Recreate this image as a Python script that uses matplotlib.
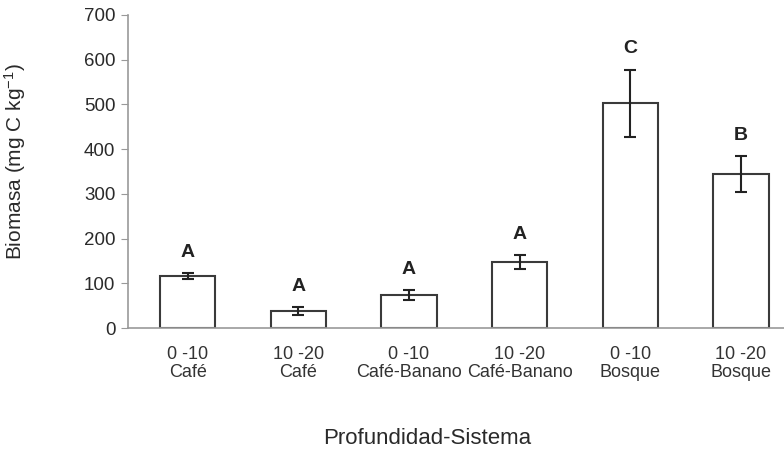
import matplotlib
matplotlib.use('Agg')
import matplotlib.pyplot as plt

plt.rcParams['font.family'] = ['Liberation Sans', 'DejaVu Sans']
plt.rcParams['mathtext.default'] = 'regular'

# Datos
categorias = ["0 -10\nCafé", "10 -20\nCafé", "0 -10\nCafé-Banano",
              "10 -20\nCafé-Banano", "0 -10\nBosque", "10 -20\nBosque"]
biomasa = [116, 38, 74, 147, 502, 344]
error = [6, 8, 11, 16, 75, 40]
letras = ["A", "A", "A", "A", "C", "B"]

fig = plt.figure(figsize=(7.84, 4.5), dpi=100)
ax = fig.add_axes([0.163, 0.271, 0.837, 0.696])

x = list(range(len(categorias)))
ax.bar(x, biomasa, width=0.5, color="white", edgecolor="#3a3a3a", linewidth=1.5,
       yerr=error, capsize=4, error_kw=dict(ecolor="#222222", elinewidth=1.5, capthick=1.5))

# Letras de significancia
for xi, v, e, l in zip(x, biomasa, error, letras):
    ax.annotate(l, (xi, v + e), xytext=(0, 9), textcoords="offset points",
                ha="center", va="bottom", fontsize=14, fontweight="bold", color="#222222")

ax.set_xlim(-0.542, 5.39)
ax.set_ylim(0, 700)
ax.set_yticks(range(0, 701, 100))
ax.set_xticks(x)
ax.set_xticklabels(categorias, fontsize=13, color="#333333", linespacing=1.05)
ax.tick_params(axis="x", length=0, pad=13)
ax.tick_params(axis="y", labelsize=13.5, labelcolor="#2a2a2a", color="#999999", length=5, pad=4)

for s in ["top", "right"]:
    ax.spines[s].set_visible(False)
for s in ["left", "bottom"]:
    ax.spines[s].set_color("#999999")
    ax.spines[s].set_linewidth(1.2)

ax.set_ylabel("Biomasa (mg C kg$^{-1}$)", fontsize=15, color="#2a2a2a")
ax.yaxis.set_label_coords(-0.152, 0.53)
ax.set_xlabel("Profundidad-Sistema", fontsize=16, color="#2a2a2a")
ax.xaxis.set_label_coords(0.456, -0.32)

plt.savefig("out.png", dpi=100)
